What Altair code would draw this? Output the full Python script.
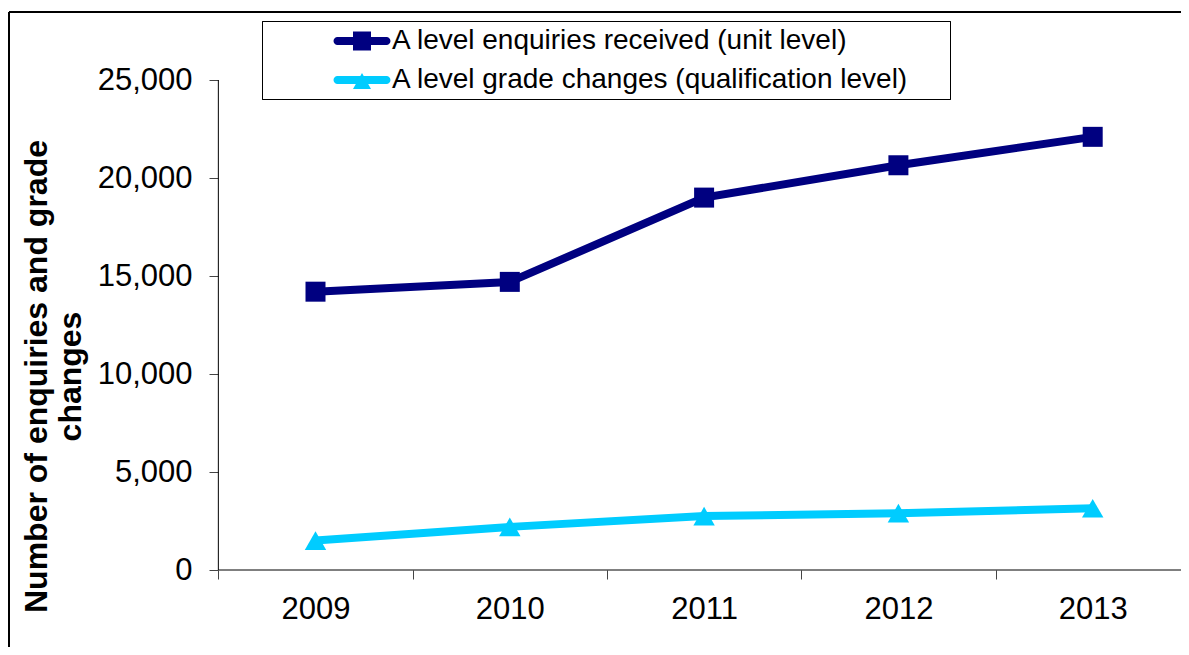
import altair as alt
import pandas as pd

# ---------------- data ----------------
years = [2009, 2010, 2011, 2012, 2013]
enquiries_received = [14200, 14700, 19000, 20650, 22100]
grade_changes = [1500, 2200, 2750, 2900, 3150]

series_names = [
    "A level enquiries received (unit level)",
    "A level grade changes (qualification level)",
]
series_colors = ["#000080", "#00CCFF"]
series_shapes = ["square", "triangle-up"]
series_sizes = [400, 460]

y_tick_values = [0, 5000, 10000, 15000, 20000, 25000]
x_tick_values = [2008.5, 2009, 2009.5, 2010, 2010.5, 2011, 2011.5,
                 2012, 2012.5, 2013, 2013.5]
y_title = ["Number of enquiries and grade", "changes"]

# legend symbols: round-capped line with marker
_legend_line = ("M-1.361,-0.222H1.361A0.222,0.222 0 0 1 1.361,0.222"
                "H-1.361A0.222,0.222 0 0 1 -1.361,-0.222Z")
legend_paths = [
    _legend_line + " M-0.5,-0.53H0.5V0.53H-0.5Z",
    _legend_line + " M0,-0.39L0.5,0.5H-0.5Z",
]

FONT = "Liberation Sans"
VIEW_W, VIEW_H = 1172, 635

df = pd.DataFrame({
    "year": years + years,
    "value": enquiries_received + grade_changes,
    "series": [series_names[0]] * len(years) + [series_names[1]] * len(years),
})

# axis lines (category boundaries / value range)
axis_lines = pd.DataFrame({
    "x": [2008.5, 2008.5],
    "x2": [2013.5, 2008.5],
    "y": [0, 0],
    "y2": [0, 25000],
})

x_scale = alt.Scale(domain=[2007.42254, 2013.45445], nice=False, zero=False)
y_scale = alt.Scale(domain=[-3928.57, 28469.39], nice=False, zero=False)

x_axis = alt.Axis(
    values=x_tick_values,
    labelExpr="datum.value % 1 === 0 ? format(datum.value, 'd') : ''",
    tickOpacity={"condition": {"test": "datum.value % 1 === 0", "value": 0}, "value": 1},
    tickSize=9,
    tickColor="#444444",
    tickWidth=1,
    domain=False,
    grid=False,
    offset=-77,
    labelFont=FONT,
    labelFontSize=31,
    labelColor="black",
    labelPadding=15,
    labelOverlap=False,
    labelFlush=False,
    title=None,
)

y_axis = alt.Axis(
    values=y_tick_values,
    labelExpr="format(datum.value, ',')",
    domain=False,
    grid=False,
    offset=-209,
    tickSize=9,
    tickColor="#444444",
    tickWidth=1,
    labelFont=FONT,
    labelFontSize=31,
    labelColor="black",
    labelPadding=17,
    labelOverlap=False,
    labelFlush=False,
    title=y_title,
    titleFont=FONT,
    titleFontSize=32,
    titleFontWeight="bold",
    titleColor="black",
    titleAngle=270,
    titleAlign="center",
    titleBaseline="alphabetic",
    titleLineHeight=34,
    titleX=-172,
    titleY=364,
)

# outer frame (top and left edges; the others fall outside the picture)
frame_left = alt.Chart(df).mark_rule(color="black", strokeWidth=1).encode(
    x=alt.value(0), y=alt.value(0), y2=alt.value(VIEW_H))
frame_top = alt.Chart(df).mark_rule(color="black", strokeWidth=1).encode(
    x=alt.value(0), x2=alt.value(VIEW_W), y=alt.value(0))

# legend frame box
legend_box = alt.Chart(df).mark_rect(
    fill="white", stroke="black", strokeWidth=1
).encode(
    x=alt.value(253.5), x2=alt.value(941.5), y=alt.value(9.5), y2=alt.value(87.5)
)

rules = alt.Chart(axis_lines).mark_rule(color="black", strokeWidth=1).encode(
    x=alt.X("x:Q", scale=x_scale, axis=x_axis),
    x2="x2:Q",
    y=alt.Y("y:Q", scale=y_scale, axis=y_axis),
    y2="y2:Q",
)

layers = [rules]
for name, color, shape, size in zip(series_names, series_colors, series_shapes, series_sizes):
    base = alt.Chart(df).transform_filter(alt.datum.series == name)
    line = base.mark_line(color=color, strokeWidth=8).encode(
        x=alt.X("year:Q", scale=x_scale, axis=x_axis),
        y=alt.Y("value:Q", scale=y_scale, axis=y_axis),
    )
    pts = base.mark_point(filled=True, color=color, shape=shape, size=size,
                          opacity=1, strokeWidth=0).encode(
        x=alt.X("year:Q", scale=x_scale, axis=x_axis),
        y=alt.Y("value:Q", scale=y_scale, axis=y_axis),
    )
    layers += [line, pts]

legend = alt.Legend(
    title=None,
    orient="none",
    legendX=254,
    legendY=7,
    padding=4,
    labelFont=FONT,
    labelFontSize=28,
    labelColor="black",
    labelLimit=3000,
    symbolSize=1296,
    symbolStrokeWidth=0,
    symbolOffset=77,
    labelOffset=12,
    rowPadding=7,
)

legend_layer = alt.Chart(df).transform_filter("false").mark_point(
    filled=True, opacity=1, size=1296, strokeWidth=0
).encode(
    color=alt.Color("series:N", scale=alt.Scale(domain=series_names, range=series_colors),
                    legend=legend),
    shape=alt.Shape("series:N", scale=alt.Scale(domain=series_names, range=legend_paths),
                    legend=legend),
)

chart = alt.layer(frame_left, frame_top, legend_box, *layers, legend_layer).properties(
    width=VIEW_W,
    height=VIEW_H,
    autosize=alt.AutoSizeParams(type="none"),
    padding={"left": 1, "top": 4, "right": 0, "bottom": 0},
    background="white",
).configure_view(
    stroke=None,
)

chart.save("out.html", embed_options={"renderer": "svg", "actions": False})
